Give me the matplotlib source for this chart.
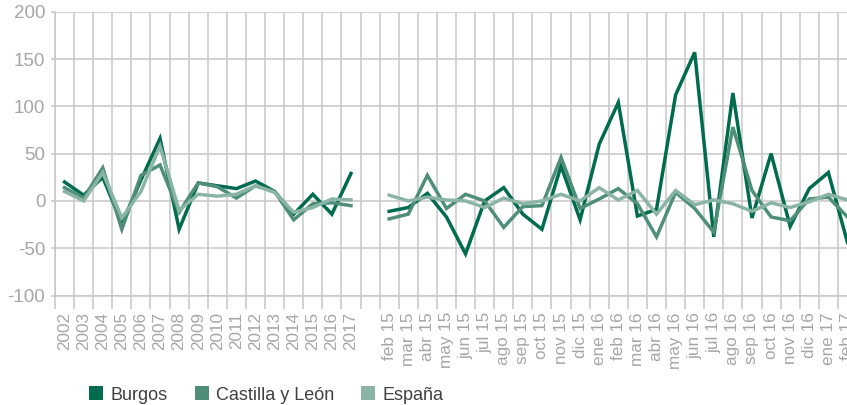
import numpy as np
import matplotlib
matplotlib.use("Agg")
import matplotlib.pyplot as plt
from matplotlib.lines import Line2D

plt.rcParams['font.family'] = ['Liberation Sans', 'DejaVu Sans']
plt.rcParams['axes.unicode_minus'] = False

years = [str(y) for y in range(2002, 2018)]
months = ['feb 15', 'mar 15', 'abr 15', 'may 15', 'jun 15', 'jul 15', 'ago 15',
          'sep 15', 'oct 15', 'nov 15', 'dic 15', 'ene 16', 'feb 16', 'mar 16',
          'abr 16', 'may 16', 'jun 16', 'jul 16', 'ago 16', 'sep 16', 'oct 16',
          'nov 16', 'dic 16', 'ene 17', 'feb 17']

# annual series
burgos_y = [20, 6, 25, -24, 22, 66, -30, 19, 16, 13, 21, 10, -14, 7, -14, 29]
castilla_y = [14, 3, 35, -30, 27, 38, -12, 19, 15, 3, 16, 10, -20, -3, -2, -5]
espana_y = [10, 0, 30, -18, 10, 58, -10, 7, 5, 7, 16, 9, -12, -7, 2, 1]

# monthly series
burgos_m = [-11, -7, 8, -17, -56, 0, 14, -14, -30, 37, -20, 60, 104, -16, -9,
            112, 157, -38, 114, -18, 50, -27, 13, 30, -44]
castilla_m = [-19, -14, 27, -8, 7, 0, -28, -6, -5, 46, -8, 2, 13, -3, -38,
              9, -8, -33, 78, 11, -17, -21, 2, 4, -17]
espana_m = [6, 0, 4, 1, 0, -7, 3, -3, 0, 7, 0, 14, 1, 11, -14,
            11, -4, 1, -3, -11, -2, -7, -1, 7, 1]

series = [('Burgos', burgos_y, burgos_m, '#006b4f'),
          ('Castilla y León', castilla_y, castilla_m, '#4f8f79'),
          ('España', espana_y, espana_m, '#8ab5a4')]

labels = years + [''] + months
x = np.arange(len(labels))

fig = plt.figure(figsize=(8.47, 4.05), dpi=100)
ax = fig.add_axes([55 / 847, (405 - 295.5) / 405, 802 / 847, 283.8 / 405])

grid_c = '#c8c8c8'
for name, yv, mv, col in series:
    vals = np.array(yv + [np.nan] + mv, dtype=float)
    ax.plot(x, vals, color=col, lw=2.5, solid_joinstyle='miter', label=name)

ax.set_xlim(-0.5, len(labels) - 0.5)
ax.set_ylim(-100, 200)
ax.set_yticks(np.arange(-100, 201, 50))
ax.yaxis.grid(True, color=grid_c, lw=1.1)

ax.set_xticks(x)
ax.set_xticklabels(labels, rotation=90, fontsize=12.3, color='#a6a6a6')
ax.set_xticks(np.arange(-0.5, len(labels), 1), minor=True)
ax.xaxis.grid(True, which='minor', color=grid_c, lw=1.1)
ax.tick_params(axis='x', which='major', length=0, pad=12)
ax.tick_params(axis='x', which='minor', length=9, color=grid_c, width=1.1)
ax.tick_params(axis='y', length=3, color=grid_c, width=1.1, labelsize=13.5,
               labelcolor='#a6a6a6', pad=4)
ax.set_axisbelow(True)

for s in ['top', 'right']:
    ax.spines[s].set_visible(False)
for s in ['left', 'bottom']:
    ax.spines[s].set_color(grid_c)
    ax.spines[s].set_linewidth(1.1)

handles = [Line2D([], [], ls='', marker='s', markersize=10.5, color=c,
                  markeredgewidth=0) for _, _, _, c in series]
fig.legend(handles, [s[0] for s in series], loc='center left',
           bbox_to_anchor=(71 / 847, 0.024), ncol=3, frameon=False,
           fontsize=13, handlelength=1.0, handletextpad=0.3,
           columnspacing=1.38, labelcolor='#404040')

fig.savefig('out.png', dpi=100)
